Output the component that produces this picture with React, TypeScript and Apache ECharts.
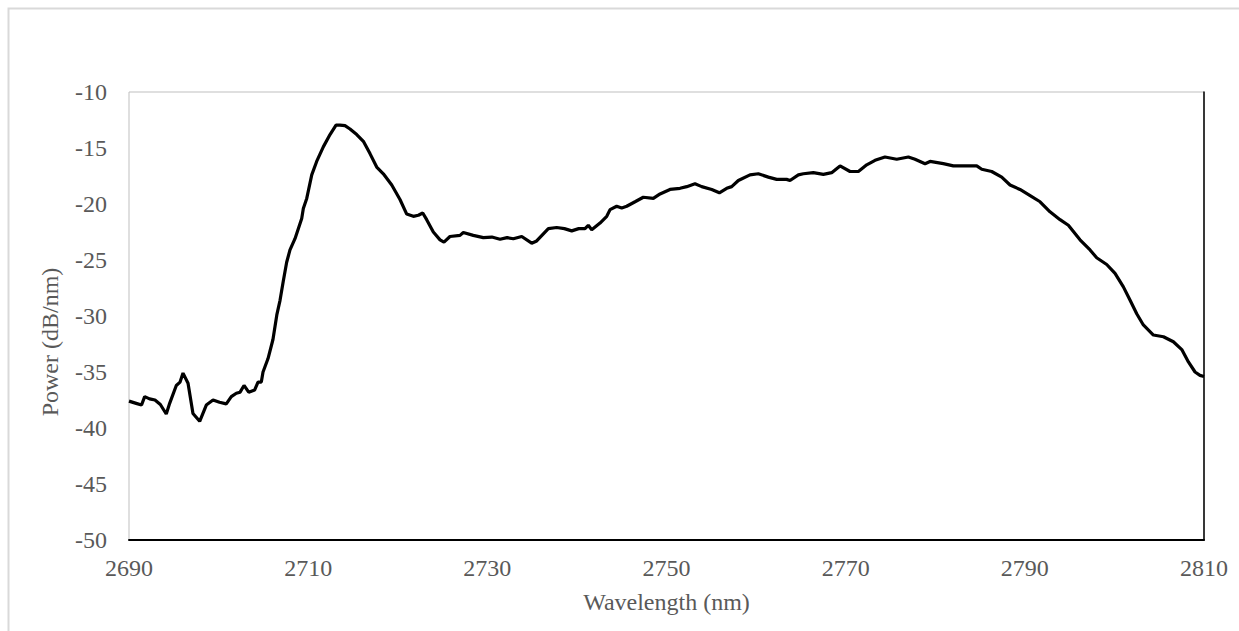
import React, { useEffect, useRef } from "react";
import * as echarts from "echarts";

const wavelengths: number[] = [
  2690.0, 2690.8, 2691.4, 2691.75, 2692.3, 2692.9, 2693.5, 2694.16, 2694.54, 2695.28,
  2695.7, 2696.03, 2696.59, 2697.14, 2697.89, 2698.3, 2698.63, 2699.38, 2700.1, 2700.86,
  2701.42, 2701.98, 2702.4, 2702.84, 2703.36, 2704.03, 2704.4, 2704.77, 2704.96, 2705.52,
  2706.07, 2706.5, 2706.86, 2707.22, 2707.6, 2707.97, 2708.53, 2709.28, 2709.46, 2709.84,
  2710.4, 2710.95, 2711.69, 2712.44, 2713.11, 2713.55, 2714.11, 2714.67, 2715.42, 2716.16,
  2716.9, 2717.65, 2718.39, 2719.33, 2720.25, 2721.0, 2721.74, 2722.3, 2722.79, 2723.23,
  2723.97, 2724.72, 2725.16, 2725.83, 2726.95, 2727.32, 2728.43, 2729.55, 2730.5, 2731.42,
  2732.2, 2732.9, 2733.84, 2734.95, 2735.51, 2736.81, 2737.74, 2738.6, 2739.42, 2740.2,
  2740.9, 2741.27, 2741.65, 2742.58, 2743.33, 2743.7, 2744.44, 2745.0, 2745.56, 2746.49,
  2747.41, 2748.53, 2749.28, 2750.39, 2751.51, 2752.26, 2753.18, 2753.93, 2755.05, 2755.9,
  2756.72, 2757.28, 2758.02, 2759.32, 2760.25, 2761.37, 2762.3, 2763.41, 2763.79, 2764.72,
  2765.28, 2766.39, 2767.51, 2768.44, 2769.37, 2770.49, 2771.42, 2772.35, 2773.28, 2774.39,
  2775.7, 2777.0, 2777.74, 2778.86, 2779.42, 2780.9, 2782.02, 2783.32, 2784.63, 2785.19,
  2786.3, 2787.42, 2788.35, 2789.46, 2790.5, 2791.7, 2792.81, 2793.93, 2794.86, 2796.16,
  2797.28, 2798.02, 2799.14, 2800.07, 2801.0, 2801.75, 2802.49, 2803.23, 2804.35, 2805.47,
  2806.58, 2807.52, 2808.26, 2809.0, 2809.55, 2810.0,
];

const power: number[] = [
  -37.6, -37.8, -37.95, -37.2, -37.4, -37.5, -37.9, -38.75, -37.8, -36.2,
  -35.9, -35.1, -36.0, -38.7, -39.4, -38.6, -37.95, -37.5, -37.7, -37.85,
  -37.2, -36.9, -36.8, -36.2, -36.8, -36.6, -35.9, -35.9, -35.0, -33.8,
  -32.1, -29.9, -28.6, -26.9, -25.2, -24.1, -23.1, -21.3, -20.4, -19.5,
  -17.4, -16.2, -14.9, -13.8, -12.95, -12.95, -13.0, -13.3, -13.8, -14.4,
  -15.5, -16.7, -17.3, -18.3, -19.6, -20.9, -21.1, -21.0, -20.8, -21.4,
  -22.5, -23.2, -23.4, -22.9, -22.8, -22.55, -22.8, -23.0, -22.95, -23.15,
  -23.0, -23.1, -22.9, -23.5, -23.3, -22.2, -22.1, -22.2, -22.4, -22.2,
  -22.2, -21.9, -22.3, -21.7, -21.1, -20.5, -20.2, -20.35, -20.2, -19.8,
  -19.4, -19.5, -19.1, -18.7, -18.6, -18.45, -18.2, -18.45, -18.7, -19.0,
  -18.6, -18.45, -17.9, -17.4, -17.3, -17.6, -17.8, -17.8, -17.9, -17.4,
  -17.3, -17.2, -17.35, -17.2, -16.6, -17.1, -17.1, -16.5, -16.1, -15.8,
  -16.0, -15.8, -16.0, -16.4, -16.2, -16.4, -16.6, -16.6, -16.6, -16.9,
  -17.1, -17.6, -18.3, -18.7, -19.2, -19.8, -20.7, -21.4, -21.9, -23.2,
  -24.1, -24.8, -25.4, -26.2, -27.4, -28.6, -29.8, -30.8, -31.7, -31.85,
  -32.3, -33.0, -34.1, -35.0, -35.3, -35.4,
];

const xTitle = "Wavelength (nm)";
const yTitle = "Power (dB/nm)";

const FONT = "Liberation Serif";
const GRAY = "#595959";

export default function App() {
  const ref = useRef<HTMLDivElement>(null);

  useEffect(() => {
    if (!ref.current) return;
    const chart = echarts.init(ref.current, undefined, { renderer: "svg" });
    const data = wavelengths.map((w, i) => [w, power[i]]);
    chart.setOption({
      animation: false,
      backgroundColor: "#ffffff",
      grid: {
        left: 129,
        top: 92,
        width: 1075,
        height: 448,
        show: true,
        borderColor: "#bfbfbf",
        borderWidth: 1,
        backgroundColor: "transparent",
      },
      xAxis: {
        type: "value",
        min: 2690,
        max: 2810,
        interval: 20,
        name: xTitle,
        nameLocation: "middle",
        nameGap: 50,
        nameTextStyle: { fontFamily: FONT, fontSize: 24, color: GRAY },
        axisLine: { show: true, lineStyle: { color: "#000000", width: 2 } },
        axisTick: { show: false },
        splitLine: { show: false },
        axisLabel: {
          fontFamily: FONT,
          fontSize: 24,
          color: GRAY,
          margin: 16,
          formatter: (v: number) => String(v),
        },
      },
      yAxis: [
        {
          type: "value",
          min: -50,
          max: -10,
          interval: 5,
          axisLine: { show: false },
          axisTick: { show: false },
          splitLine: { show: false },
          axisLabel: {
            fontFamily: FONT,
            fontSize: 24,
            color: GRAY,
            margin: 22,
            formatter: (v: number) => String(v),
          },
        },
        {
          type: "value",
          position: "right",
          min: -50,
          max: -10,
          interval: 5,
          axisLine: { show: true, lineStyle: { color: "#000000", width: 1.5 } },
          axisTick: { show: false },
          splitLine: { show: false },
          axisLabel: { show: false },
        },
      ],
      graphic: [
        {
          type: "rect",
          left: 6,
          top: 6,
          shape: { width: 1300, height: 700 },
          style: { fill: "none", stroke: "#d9d9d9", lineWidth: 2 },
          silent: true,
        },
        {
          type: "text",
          x: 50,
          y: 342,
          rotation: Math.PI / 2,
          style: {
            text: yTitle,
            fontFamily: FONT,
            fontSize: 24,
            fill: GRAY,
            textAlign: "center",
            textVerticalAlign: "middle",
          },
        },
      ],
      series: [
        {
          type: "line",
          data,
          showSymbol: false,
          symbol: "none",
          smooth: false,
          lineStyle: { color: "#000000", width: 3.2 },
          clip: true,
        },
      ],
    });
    return () => chart.dispose();
  }, []);

  return (
    <div
      ref={ref}
      style={{ position: "absolute", left: 0, top: 0, width: 1239, height: 631 }}
    />
  );
}
